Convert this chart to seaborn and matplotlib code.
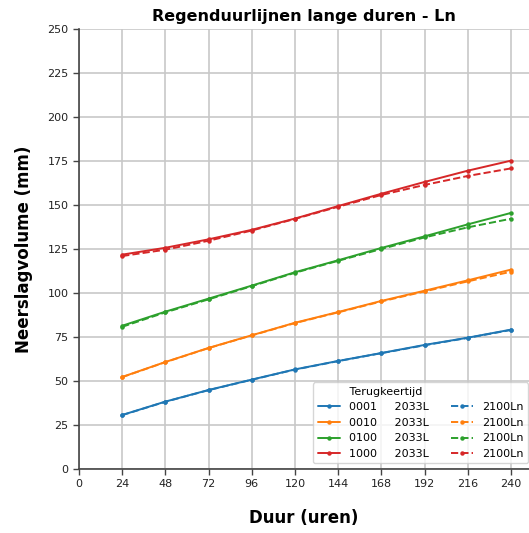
import matplotlib
matplotlib.use("Agg")
import matplotlib.pyplot as plt
import seaborn as sns
import pandas as pd

durations = [24, 48, 72, 96, 120, 144, 168, 192, 216, 240]
return_periods = ["0001", "0010", "0100", "1000"]
scenarios = ["2033L", "2100Ln"]

vol_2033L_0001 = [30.7, 38.3, 44.9, 50.8, 56.6, 61.4, 65.9, 70.5, 74.6, 79.2]
vol_2033L_0010 = [52.3, 60.8, 68.8, 76.0, 83.1, 89.2, 95.5, 101.3, 107.2, 113.3]
vol_2033L_0100 = [81.4, 89.4, 96.8, 104.2, 111.8, 118.6, 125.6, 132.2, 139.0, 145.5]
vol_2033L_1000 = [121.8, 125.7, 130.5, 135.9, 142.3, 149.4, 156.4, 163.1, 169.5, 175.2]

vol_2100Ln_0001 = [30.6, 38.2, 44.8, 50.7, 56.5, 61.3, 65.8, 70.3, 74.5, 79.0]
vol_2100Ln_0010 = [52.2, 60.7, 68.7, 75.9, 82.9, 89.0, 95.2, 100.9, 106.6, 112.1]
vol_2100Ln_0100 = [80.8, 89.0, 96.4, 103.9, 111.5, 118.3, 125.0, 131.6, 137.3, 142.2]
vol_2100Ln_1000 = [121.0, 124.6, 129.7, 135.5, 142.1, 149.0, 155.7, 161.4, 166.5, 170.8]

x_ticks = [0, 24, 48, 72, 96, 120, 144, 168, 192, 216, 240]
y_ticks = [0, 25, 50, 75, 100, 125, 150, 175, 200, 225, 250]

series = {
    ("2033L", "0001"): vol_2033L_0001,
    ("2033L", "0010"): vol_2033L_0010,
    ("2033L", "0100"): vol_2033L_0100,
    ("2033L", "1000"): vol_2033L_1000,
    ("2100Ln", "0001"): vol_2100Ln_0001,
    ("2100Ln", "0010"): vol_2100Ln_0010,
    ("2100Ln", "0100"): vol_2100Ln_0100,
    ("2100Ln", "1000"): vol_2100Ln_1000,
}

sns.set_style("white")
plt.rcParams["font.family"] = ["DejaVu Sans"]
plt.rcParams["text.color"] = "black"
plt.rcParams["axes.labelcolor"] = "black"

colors = sns.color_palette("tab10", 4)

fig = plt.figure(figsize=(5.29, 5.33), dpi=100)
ax = fig.add_axes([79 / 529, 64 / 533, 450 / 529, 440 / 533])

for scen, ls in zip(scenarios, ["-", "--"]):
    for rp, c in zip(return_periods, colors):
        df = pd.DataFrame({"Duur": durations, "Volume": series[(scen, rp)]})
        if scen == "2033L":
            label = f"{rp}     2033L"
        else:
            label = "2100Ln"
        sns.lineplot(data=df, x="Duur", y="Volume", ax=ax, color=c,
                     linestyle=ls, marker="o", markersize=3.2,
                     markeredgewidth=0, linewidth=1.4, label=label)

ax.set_xlim(0, 250)
ax.set_ylim(0, 250)
ax.set_xticks(x_ticks)
ax.set_yticks(y_ticks)
ax.tick_params(axis="both", labelsize=8, length=4, width=1, color="#444444",
               direction="out", labelcolor="#222222", left=True, bottom=True)
ax.grid(True, color="#c8c8c8", linewidth=1.2)
ax.set_axisbelow(True)
for side in ["top", "right"]:
    ax.spines[side].set_visible(False)
for side in ["left", "bottom"]:
    ax.spines[side].set_color("#444444")
    ax.spines[side].set_linewidth(1.2)

ax.set_title("Regenduurlijnen lange duren - Ln", fontsize=11.5,
             fontweight="bold", pad=6, color="black")
ax.set_xlabel("Duur (uren)", fontsize=12, fontweight="bold", labelpad=14)
ax.set_ylabel("Neerslagvolume (mm)", fontsize=12, fontweight="bold", labelpad=10)

leg = ax.legend(title="         Terugkeertijd", ncol=2, fontsize=8,
                title_fontsize=8, loc="lower right",
                bbox_to_anchor=(1.01, 0.0), alignment="left",
                handlelength=2.0, columnspacing=2.0, labelspacing=0.5,
                frameon=True, fancybox=True)
leg.get_frame().set_edgecolor("#cccccc")

fig.savefig("out.png", dpi=100)
